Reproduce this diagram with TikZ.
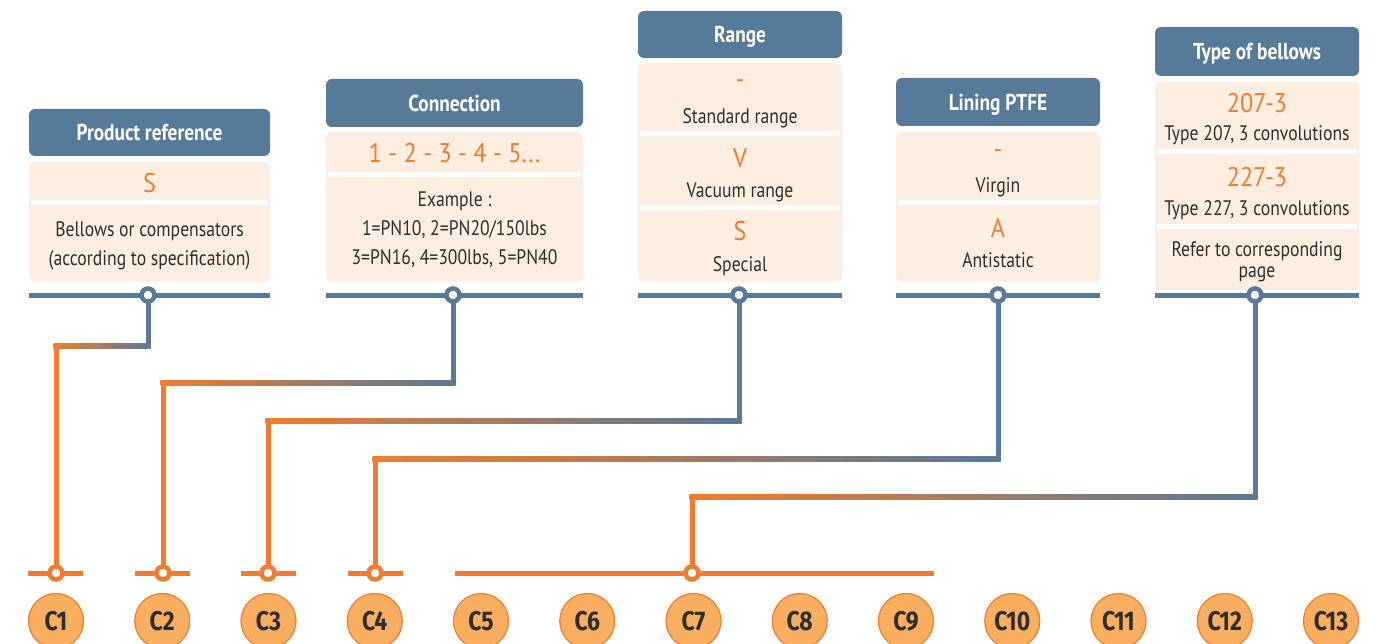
\documentclass[tikz,border=0pt]{standalone}
\usepackage{fontspec}
\setmainfont[FakeStretch=0.84]{PT Sans}
\newfontfamily\hdrfont[FakeStretch=0.84]{PT Sans}
\newfontfamily\codefont[FakeStretch=0.9]{PT Sans}
\newfontfamily\cfont[FakeStretch=0.85]{Fira Sans}
\usetikzlibrary{calc}
\definecolor{blu}{HTML}{567A97}
\definecolor{peach}{HTML}{FDEEE1}
\definecolor{orng}{HTML}{F27C2C}
\definecolor{cfill}{HTML}{FAAE60}
\definecolor{txt}{HTML}{2E2E2E}
\tikzset{
 hdr/.style={fill=blu, rounded corners=6pt, text=white, font=\hdrfont\bfseries\fontsize{23}{25}\selectfont, inner sep=0pt},
 hdrtext/.style={text=white, font=\hdrfont\bfseries\fontsize{23}{25}\selectfont, inner sep=0pt, text depth=0pt},
 cbox/.style={fill=peach, rounded corners=6pt, inner sep=0pt},
 sepline/.style={white, line width=5pt},
 code/.style={text=orng, font=\codefont\fontsize{27}{28}\selectfont, inner sep=0pt},
 desc/.style={text=txt, font=\fontsize{21}{29}\selectfont, align=center, inner sep=0pt},
 desctight/.style={text=txt, font=\fontsize{21}{21}\selectfont, align=center, inner sep=0pt},
 bbar/.style={blu, line width=5pt},
 obar/.style={orng, line width=5pt},
 bdot/.style={circle, draw=blu, line width=4.5pt, fill=white, minimum size=13pt, inner sep=0pt},
 odot/.style={circle, draw=orng, line width=4.5pt, fill=white, minimum size=13pt, inner sep=0pt},
 bline/.style={blu, line width=5pt},
 oline/.style={orng, line width=5pt},
 cc/.style={circle, fill=cfill, draw=orng, line width=1.2pt, minimum size=55pt, inner sep=0pt, text=txt, font=\cfont\bfseries\fontsize{27}{30}\selectfont},
 grad/.style={left color=orng, right color=blu}
}
\begin{document}
\begin{tikzpicture}[x=1pt,y=-1pt]
\useasboundingbox (0,0) rectangle (1380,644);
\clip (0,0) rectangle (1380,644);
\fill[white] (0,0) rectangle (1380,644);

% ---------- Box 1
\node[hdr, minimum width=241pt, minimum height=47pt] (h1) at (149.5,132.5) {};
\node[hdrtext] (h1t) at (h1) {Product reference};
\node[cbox, minimum width=241pt, minimum height=120pt] (b1) at (149.5,222) {};
\draw[sepline] (31,203) -- (268,203);
\node[code] (t1a) at (149.5,183) {S};
\node[desc] (t1b) at (149.5,245.5) {Bellows or compensators\\(according to specification)};
\draw[bbar] (29,295) -- (270,295);

% ---------- Box 2
\node[hdr, minimum width=257pt, minimum height=48pt] (h2) at (454.5,103) {};
\node[hdrtext] (h2t) at (h2) {Connection};
\node[cbox, minimum width=257pt, minimum height=150pt] (b2) at (454.5,207) {};
\draw[sepline] (328,175) -- (581,175);
\node[code] (t2a) at (454.5,153) {1 - 2 - 3 - 4 - 5...};
\node[desc] (t2b) at (454.5,230) {Example :\\1=PN10, 2=PN20/150lbs\\3=PN16, 4=300lbs, 5=PN40};
\draw[bbar] (326,295) -- (583,295);

% ---------- Box 3
\node[hdr, minimum width=204pt, minimum height=47pt] (h3) at (740,34.5) {};
\node[hdrtext] (h3t) at (h3) {Range};
\node[cbox, minimum width=204pt, minimum height=219pt] (b3) at (740,172.5) {};
\draw[sepline] (640,134) -- (840,134);
\draw[sepline] (640,208) -- (840,208);
\node[code] (t3a) at (740,84) {-};
\node[desc] (t3b) at (740,118) {Standard range};
\node[code] (t3c) at (740,158) {V};
\node[desc] (t3d) at (740,192) {Vacuum range};
\node[code] (t3e) at (740,231) {S};
\node[desc] (t3f) at (740,266) {Special};
\draw[bbar] (638,295) -- (842,295);

% ---------- Box 4
\node[hdr, minimum width=204pt, minimum height=48pt] (h4) at (998,102) {};
\node[hdrtext] (h4t) at (h4) {Lining PTFE};
\node[cbox, minimum width=204pt, minimum height=150pt] (b4) at (998,207) {};
\draw[sepline] (898,203) -- (1098,203);
\node[code] (t4a) at (998,154) {-};
\node[desc] (t4b) at (998,187) {Virgin};
\node[code] (t4c) at (998,228) {A};
\node[desc] (t4d) at (998,260) {Antistatic};
\draw[bbar] (896,295) -- (1100,295);

% ---------- Box 5
\node[hdr, minimum width=204pt, minimum height=49pt] (h5) at (1257,51.5) {};
\node[hdrtext] (h5t) at (h5) {Type of bellows};
\node[cbox, minimum width=204pt, minimum height=208pt] (b5) at (1257,186) {};
\draw[sepline] (1157,152) -- (1357,152);
\draw[sepline] (1157,227) -- (1357,227);
\node[code] (t5a) at (1257,103) {207-3};
\node[desc] (t5b) at (1257,135) {Type 207, 3 convolutions};
\node[code] (t5c) at (1257,177) {227-3};
\node[desc] (t5d) at (1257,210) {Type 227, 3 convolutions};
\node[desctight] (t5e) at (1257,262) {Refer to corresponding\\page};
\draw[bbar] (1155,295) -- (1359,295);

% ---------- bottom bars
\draw[obar] (28,573) -- (83,573);
\draw[obar] (135,573) -- (190,573);
\draw[obar] (241,573) -- (296,573);
\draw[obar] (348,573) -- (403,573);
\draw[obar] (455,573) -- (934,573);

% ---------- junction coordinates
\coordinate (p1) at (148,295);
\coordinate (p2) at (453,295);
\coordinate (p3) at (739,295);
\coordinate (p4) at (998,295);
\coordinate (p5) at (1255,295);
\coordinate (q1) at (56,573);
\coordinate (q2) at (163,573);
\coordinate (q3) at (268,573);
\coordinate (q4) at (375,573);
\coordinate (q5) at (692,573);
\coordinate (k1) at (148,346);  \coordinate (j1) at (56,346);
\coordinate (k2) at (453,383);  \coordinate (j2) at (163,383);
\coordinate (k3) at (739,421);  \coordinate (j3) at (268,421);
\coordinate (k4) at (998,459);  \coordinate (j4) at (375,459);
\coordinate (k5) at (1255,497); \coordinate (j5) at (692,497);

% ---------- connectors
\foreach \i in {1,...,5}{
  \draw[bline] (p\i) -- (k\i);
  \draw[oline] (j\i) -- (q\i);
  \shade[grad] ($(j\i)+(-2.5,-2.5)$) rectangle ($(k\i)+(2.5,2.5)$);
}

% ---------- junction dots
\foreach \i in {1,...,5}{
  \node[bdot] (pd\i) at (p\i) {};
  \node[odot] (qd\i) at (q\i) {};
}

% ---------- code circles
\node[cc] (C1) at (56,621) {C1};
\node[cc] (C2) at (162.25,621) {C2};
\node[cc] (C3) at (268.5,621) {C3};
\node[cc] (C4) at (374.75,621) {C4};
\node[cc] (C5) at (481,621) {C5};
\node[cc] (C6) at (587.25,621) {C6};
\node[cc] (C7) at (693.5,621) {C7};
\node[cc] (C8) at (799.75,621) {C8};
\node[cc] (C9) at (906,621) {C9};
\node[cc] (C10) at (1012.25,621) {C10};
\node[cc] (C11) at (1118.5,621) {C11};
\node[cc] (C12) at (1224.75,621) {C12};
\node[cc] (C13) at (1331,621) {C13};
\end{tikzpicture}
\end{document}
